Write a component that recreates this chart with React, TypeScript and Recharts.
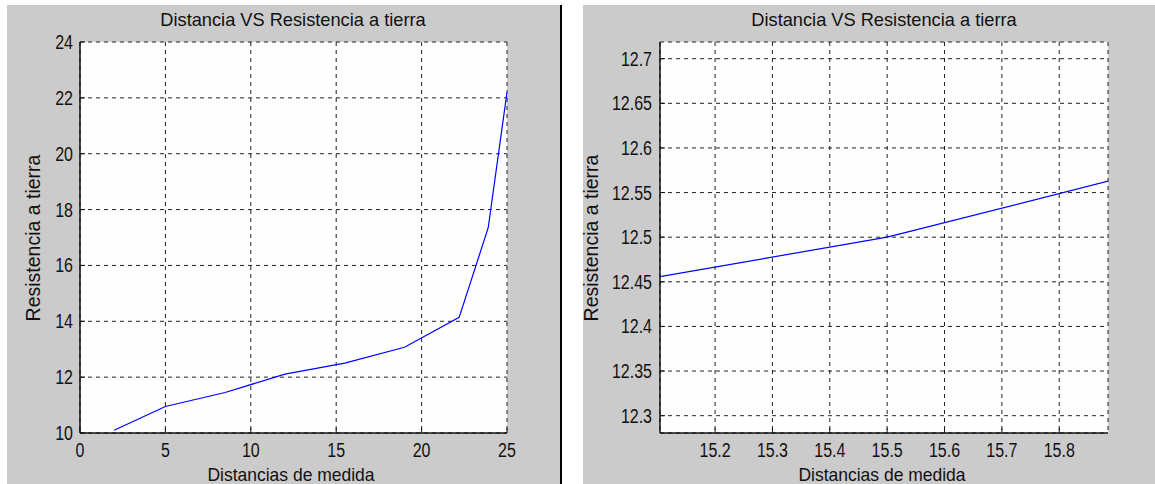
import React from 'react';
import { LineChart, Line, XAxis, YAxis, CartesianGrid } from 'recharts';

// ---- data ----
const distancias = [2, 5, 8.5, 12, 15.5, 19, 22.2, 23.9, 25];
const resistencias = [10.1, 10.95, 11.45, 12.11, 12.5, 13.07, 14.14, 17.35, 22.2];

const xTicksFull = [0, 5, 10, 15, 20, 25];
const yTicksFull = [10, 12, 14, 16, 18, 20, 22, 24];
const xDomainFull = [0, 25];
const yDomainFull = [10, 24];

const xTicksZoom = [15.2, 15.3, 15.4, 15.5, 15.6, 15.7, 15.8];
const yTicksZoom = [12.3, 12.35, 12.4, 12.45, 12.5, 12.55, 12.6, 12.65, 12.7];
const xDomainZoom = [15.104, 15.885];
const yDomainZoom = [12.2806, 12.7187];

const titleText = 'Distancia VS Resistencia a tierra';
const xLabelText = 'Distancias de medida';
const yLabelText = 'Resistencia a tierra';

const data = distancias.map((d, i) => ({ d, r: resistencias[i] }));

const FONT = "'Liberation Sans', Arial, sans-serif";
const GRAY = '#cbcbcb';
const TICK_SCALE = 0.82;

const XTick = (props: any) => (
  <g transform={`translate(${props.x},${props.y}) scale(${TICK_SCALE},1)`}>
    <text x={0} y={0} textAnchor="middle" fontFamily={FONT} fontSize={19.5} fill="#111">
      {String(props.payload.value)}
    </text>
  </g>
);
const YTick = (props: any) => (
  <g transform={`translate(${props.x},${props.y}) scale(${TICK_SCALE},1)`}>
    <text x={0} y={0} dy="0.36em" textAnchor="end" fontFamily={FONT} fontSize={19.5} fill="#111">
      {String(props.payload.value)}
    </text>
  </g>
);
const EmptyTick = () => <g />;

function Panel(p: {
  width: number;
  height: number;
  yAxisWidth: number;
  marginRight: number;
  xTicks: number[];
  yTicks: number[];
  xDomain: number[];
  yDomain: number[];
  yTickMargin: number;
}) {
  const axisLine = { stroke: '#111', strokeWidth: 1.5 };
  const tickLine = { stroke: '#111', strokeWidth: 1 };
  return (
    <LineChart
      width={p.width}
      height={p.height}
      data={data}
      margin={{ top: 37, right: p.marginRight, bottom: 0, left: 0 }}
    >
      <CartesianGrid stroke="#222" strokeDasharray="4 4" fill="#fefefe" />
      <XAxis
        dataKey="d"
        type="number"
        domain={p.xDomain}
        ticks={p.xTicks}
        interval={0}
        allowDataOverflow
        height={51}
        tickSize={-5}
        tickMargin={29}
        axisLine={axisLine}
        tickLine={tickLine}
        tick={XTick}
      />
      <XAxis
        xAxisId="top"
        orientation="top"
        type="number"
        domain={p.xDomain}
        ticks={p.xTicks}
        interval={0}
        allowDataOverflow
        height={0}
        tickSize={-5}
        axisLine={axisLine}
        tickLine={tickLine}
        tick={EmptyTick}
      />
      <YAxis
        type="number"
        domain={p.yDomain}
        ticks={p.yTicks}
        interval={0}
        allowDataOverflow
        width={p.yAxisWidth}
        tickSize={-5}
        tickMargin={p.yTickMargin}
        axisLine={axisLine}
        tickLine={tickLine}
        tick={YTick}
      />
      <YAxis
        yAxisId="right"
        orientation="right"
        type="number"
        domain={p.yDomain}
        ticks={p.yTicks}
        interval={0}
        allowDataOverflow
        width={0}
        tickSize={-5}
        axisLine={axisLine}
        tickLine={tickLine}
        tick={EmptyTick}
      />
      <Line
        type="linear"
        dataKey="r"
        stroke="#0000ff"
        strokeWidth={1.2}
        dot={false}
        activeDot={false}
        isAnimationActive={false}
      />
    </LineChart>
  );
}

function Labels(p: { cx: number; yLabelX: number; cy: number }) {
  return (
    <>
      <g transform={`translate(${p.cx},26) scale(0.96,1)`}>
        <text x={0} y={0} textAnchor="middle" fontFamily={FONT} fontSize={19} fill="#111">
          {titleText}
        </text>
      </g>
      <g transform={`translate(${p.cx - 2},481) scale(0.94,1)`}>
        <text x={0} y={0} textAnchor="middle" fontFamily={FONT} fontSize={18.6} fill="#111">
          {xLabelText}
        </text>
      </g>
      <g transform={`translate(${p.yLabelX},${p.cy}) rotate(-90)`}>
        <text x={0} y={0} textAnchor="middle" fontFamily={FONT} fontSize={19.5} fill="#111">
          {yLabelText}
        </text>
      </g>
    </>
  );
}

export default function App() {
  return (
    <div style={{ position: 'absolute', left: 0, top: 0, width: 1155, height: 484, background: '#fff', overflow: 'hidden' }}>
      <div style={{ position: 'absolute', left: 7, top: 5, width: 553, height: 479, background: GRAY }}>
        <Panel
          width={553}
          height={479}
          yAxisWidth={73}
          marginRight={53}
          xTicks={xTicksFull}
          yTicks={yTicksFull}
          xDomain={xDomainFull}
          yDomain={yDomainFull}
          yTickMargin={12}
        />
      </div>
      <div style={{ position: 'absolute', left: 560, top: 5, width: 2, height: 479, background: '#000' }} />
      <div style={{ position: 'absolute', left: 583, top: 5, width: 572, height: 479, background: GRAY }}>
        <Panel
          width={572}
          height={479}
          yAxisWidth={77}
          marginRight={47}
          xTicks={xTicksZoom}
          yTicks={yTicksZoom}
          xDomain={xDomainZoom}
          yDomain={yDomainZoom}
          yTickMargin={13}
        />
      </div>
      <svg
        width={1155}
        height={484}
        style={{ position: 'absolute', left: 0, top: 0, pointerEvents: 'none', overflow: 'hidden' }}
      >
        <Labels cx={293} yLabelX={40} cy={238} />
        <Labels cx={884} yLabelX={598} cy={238} />
      </svg>
    </div>
  );
}
